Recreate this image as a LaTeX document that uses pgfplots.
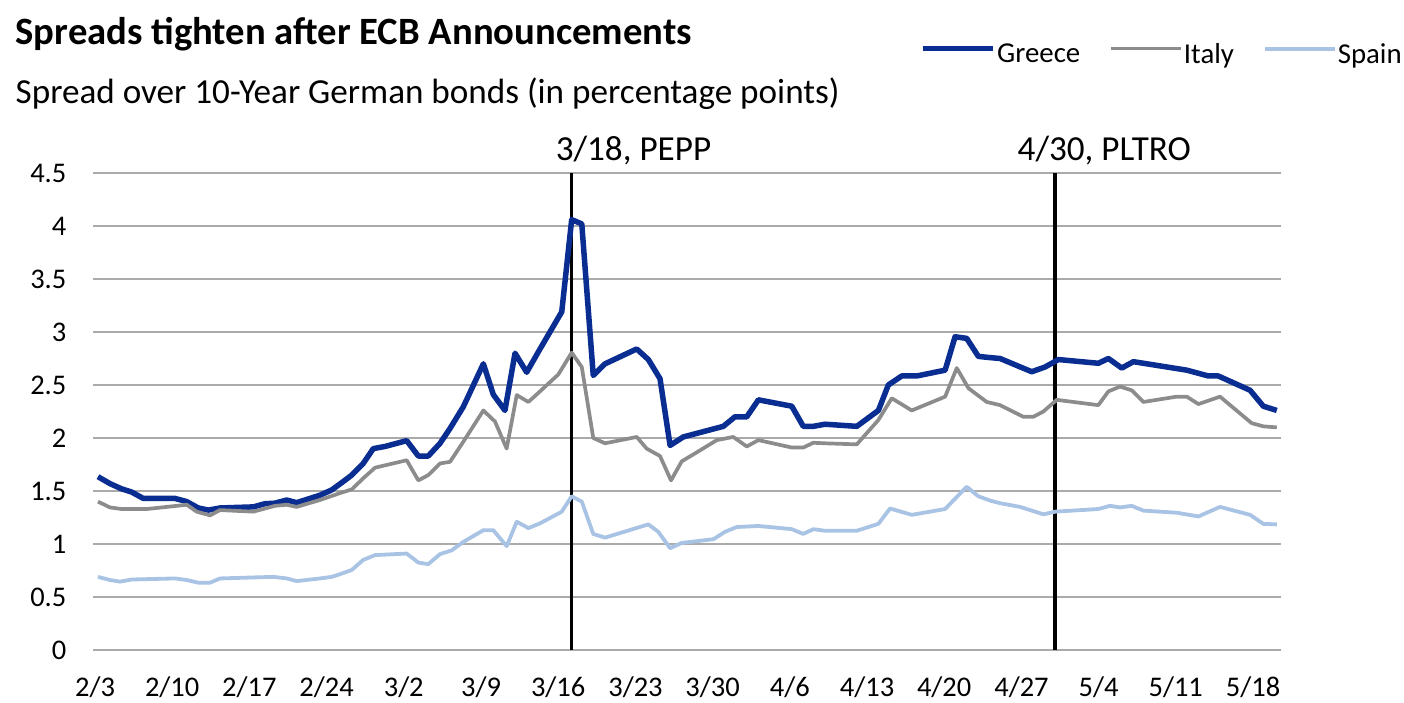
\documentclass[border=0pt]{standalone}
\usepackage{fontspec}
\setmainfont{Carlito}
\usepackage{pgfplots}
\pgfplotsset{compat=1.18}
\definecolor{greece}{RGB}{10,45,145}
\definecolor{italy}{RGB}{140,140,140}
\definecolor{spain}{RGB}{168,195,228}
\definecolor{gridc}{RGB}{170,170,170}

\pgfplotstableread{
x y
0.00 1.635
0.77 1.57
1.53 1.52
2.17 1.49
2.92 1.43
4.96 1.43
5.72 1.40
6.46 1.34
7.11 1.32
7.86 1.34
10.01 1.35
10.76 1.38
11.40 1.385
12.16 1.415
12.80 1.39
14.30 1.46
15.06 1.51
15.81 1.59
16.35 1.65
17.09 1.76
17.74 1.90
18.49 1.92
19.89 1.975
20.64 1.83
21.28 1.83
22.04 1.95
22.68 2.09
23.54 2.295
24.83 2.70
25.47 2.41
26.22 2.26
26.87 2.80
27.62 2.62
28.48 2.84
29.88 3.19
30.52 4.06
31.17 4.02
31.91 2.59
32.67 2.70
34.71 2.84
35.46 2.74
36.21 2.56
36.86 1.93
37.71 2.01
40.29 2.11
41.04 2.20
41.80 2.20
42.55 2.36
44.70 2.30
45.44 2.11
46.09 2.11
46.84 2.13
48.89 2.11
50.28 2.26
50.92 2.50
51.78 2.585
52.75 2.585
54.58 2.64
55.22 2.955
55.97 2.94
56.72 2.77
57.36 2.76
58.12 2.75
60.16 2.625
61.02 2.67
61.88 2.74
64.45 2.705
65.10 2.75
65.96 2.66
66.71 2.72
70.15 2.64
71.54 2.585
72.18 2.585
74.23 2.45
75.08 2.30
75.95 2.26
}\greece

\pgfplotstableread{
x y
0.00 1.40
0.77 1.345
1.53 1.33
3.14 1.33
5.72 1.37
6.36 1.305
7.22 1.27
7.86 1.32
10.01 1.305
11.40 1.36
12.16 1.37
12.80 1.35
14.30 1.415
15.59 1.48
16.35 1.515
17.09 1.62
17.85 1.72
19.89 1.79
20.64 1.60
21.28 1.65
22.04 1.76
22.68 1.775
23.54 1.965
24.83 2.26
25.58 2.155
26.33 1.90
26.98 2.405
27.73 2.34
28.48 2.44
29.66 2.60
30.52 2.805
31.17 2.67
31.91 2.00
32.67 1.95
34.71 2.01
35.35 1.90
36.21 1.83
36.92 1.60
37.61 1.78
38.47 1.855
39.87 1.98
40.93 2.01
41.80 1.92
42.55 1.98
44.70 1.91
45.44 1.91
46.09 1.955
46.84 1.95
48.89 1.94
50.28 2.17
51.14 2.375
52.43 2.26
54.58 2.39
55.33 2.66
56.08 2.47
57.26 2.34
58.12 2.31
59.62 2.20
60.26 2.20
60.91 2.25
61.77 2.36
64.45 2.31
65.10 2.44
65.85 2.485
66.60 2.45
67.35 2.34
69.50 2.39
70.15 2.39
70.90 2.32
72.29 2.39
74.33 2.14
75.08 2.11
75.95 2.10
}\italy

\pgfplotstableread{
x y
0.00 0.69
0.77 0.66
1.42 0.645
2.17 0.665
4.96 0.675
5.72 0.66
6.46 0.635
7.22 0.635
7.86 0.675
11.30 0.69
12.16 0.675
12.80 0.65
14.30 0.675
15.06 0.69
15.59 0.715
16.35 0.755
17.09 0.85
17.85 0.895
19.89 0.91
20.64 0.825
21.28 0.81
22.04 0.905
22.79 0.94
23.54 1.02
24.83 1.13
25.47 1.13
26.33 0.98
26.98 1.21
27.73 1.15
28.48 1.195
29.88 1.305
30.52 1.45
31.17 1.40
31.91 1.095
32.67 1.06
35.46 1.185
36.10 1.115
36.86 0.96
37.61 1.01
39.65 1.045
40.40 1.115
41.15 1.16
42.55 1.17
44.70 1.14
45.44 1.095
46.09 1.14
46.84 1.125
48.89 1.125
50.28 1.19
51.03 1.335
52.43 1.275
54.58 1.33
55.97 1.54
56.72 1.45
57.47 1.41
58.12 1.385
59.41 1.35
60.91 1.28
61.66 1.305
64.45 1.33
65.21 1.36
65.85 1.345
66.60 1.36
67.35 1.315
69.50 1.295
70.90 1.26
72.29 1.35
74.23 1.275
75.08 1.19
75.95 1.185
}\spain

\begin{document}
\begin{tikzpicture}
\useasboundingbox (0,0) rectangle (140.4mm,70.2mm);
\node[anchor=base west,inner sep=0pt,font=\bfseries\fontsize{11}{13}\selectfont] at (1.5mm,65.7mm) {Spreads tighten after ECB Announcements};
\node[anchor=base west,inner sep=0pt,font=\fontsize{10}{12}\selectfont] at (1.5mm,59.8mm) {Spread over 10-Year German bonds (in percentage points)};
\begin{axis}[
  at={(9.3mm,5.2mm)}, anchor=south west,
  scale only axis, width=118.8mm, height=47.7mm,
  xmin=-0.32, xmax=76.22, ymin=0, ymax=4.5,
  clip=false,
  axis line style={draw=none},
  major tick length=0pt,
  tick style={draw=none},
  ymajorgrids,
  grid style={color=gridc, line width=0.2mm},
  ytick={0,0.5,1,1.5,2,2.5,3,3.5,4,4.5},
  xtick={-0.19,4.78,9.75,14.73,19.70,24.68,29.65,34.63,39.60,44.57,49.55,54.52,59.50,64.47,69.44,74.42},
  xticklabels={2/3,2/10,2/17,2/24,3/2,3/9,3/16,3/23,3/30,4/6,4/13,4/20,4/27,5/4,5/11,5/18},
  /pgf/number format/assume math mode=true,
  yticklabel style={font=\fontsize{8.1}{9.5}\selectfont, anchor=east, inner sep=0pt, xshift=-2.6mm},
  xticklabel style={font=\fontsize{8.1}{9.5}\selectfont, anchor=north, inner sep=0pt, yshift=-2.6mm},
  legend columns=3,
  legend style={draw=none, fill=none, at={(0.6961,1.245)}, anchor=west, inner sep=0pt,
    font=\fontsize{8.2}{9.5}\selectfont,
    nodes={inner sep=0pt},
    /tikz/every odd column/.append style={column sep=0.1mm},
    /tikz/every even column/.append style={column sep=2.9mm}},
  legend image code/.code={\draw[#1] (0mm,0.75mm) -- (7mm,0.75mm);},
  line join=round,
]
\addplot[black, line width=0.33mm, forget plot] coordinates {(30.52,0) (30.52,4.5)};
\addplot[black, line width=0.33mm, forget plot] coordinates {(61.66,0) (61.66,4.5)};
\addplot[greece, line width=0.55mm] table[x=x,y=y] {\greece};
\addplot[italy, line width=0.37mm] table[x=x,y=y] {\italy};
\addplot[spain, line width=0.38mm] table[x=x,y=y] {\spain};
\legend{Greece,Italy,Spain}
\node[anchor=base west, inner sep=0pt, font=\fontsize{10}{12}\selectfont] at (axis cs:29.45,4.62) {3/18, PEPP};
\node[anchor=base west, inner sep=0pt, font=\fontsize{10}{12}\selectfont] at (axis cs:59.21,4.62) {4/30, PLTRO};
\end{axis}
\end{tikzpicture}
\end{document}
